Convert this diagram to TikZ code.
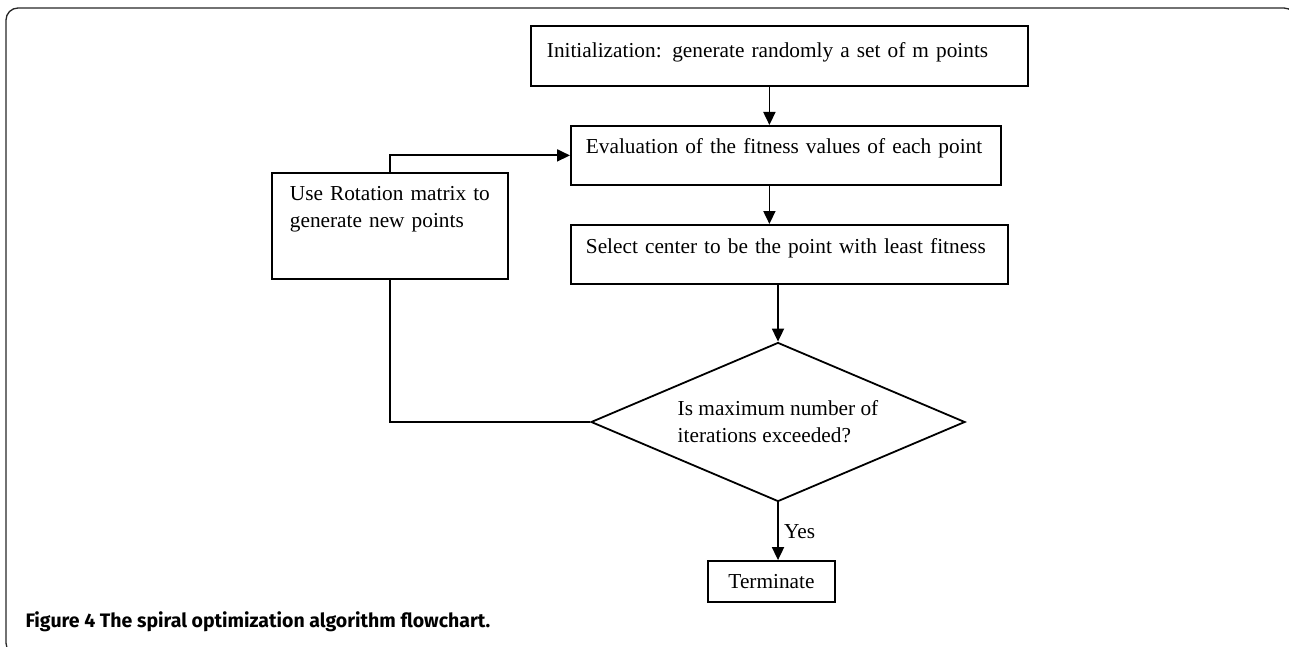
\documentclass[tikz,border=0pt]{standalone}
\usepackage{fontspec}
\setmainfont{Liberation Serif}
\newfontfamily\capfont{Fira Sans}
\usepackage{tikz}
\usetikzlibrary{arrows.meta,shapes.geometric}

\tikzset{
	stepbox/.style={draw, line width=1.8pt, anchor=north west, inner ysep=0pt, align=left},
	arr/.style={line width=1.8pt, -{Triangle[length=13pt,width=12pt]}},
	link/.style={line width=1.8pt}
}

\begin{document}
\begin{tikzpicture}[x=1pt, y=-1pt, font=\fontsize{21.3}{27}\selectfont]
		\useasboundingbox (0,0) rectangle (1289,647);
		\draw[line width=1.3pt, black!85, rounded corners=12pt] (60,655) -- (6,655) -- (6,8) -- (1296,8) -- (1296,60);

		\node[stepbox, inner xsep=16pt, text width=465pt, text height=32pt, text depth=28pt] (init) at (530,25) {Initialization: generate randomly a set of m points};
		\node[stepbox, inner xsep=15pt, text width=400pt, text height=28pt, text depth=31pt] (eval) at (570,125) {Evaluation of the fitness values of each point};
		\node[stepbox, inner xsep=15pt, text width=407pt, text height=29pt, text depth=30pt] (sel) at (570,224) {Select center to be the point with least fitness};
		\node[stepbox, inner xsep=18pt, text width=200pt, text height=28pt, text depth=78pt] (rot) at (271,172) {\mbox{Use Rotation matrix to}\\generate new points};
		\node[diamond, draw, line width=1.8pt, inner sep=0pt, aspect=2.35, minimum width=374pt, minimum height=159pt, align=left] (test) at (778,422) {Is maximum number of\\iterations exceeded?};
		\node[draw, line width=1.8pt, minimum width=127pt, minimum height=41pt, inner sep=0pt] (stop) at (771.5,581.5) {Terminate};

		\draw[arr] ([xshift=-10pt]init.south) -- ([xshift=-10pt]init.south |- eval.north);
		\draw[arr] ([xshift=-10pt]init.south |- eval.south) -- ([xshift=-10pt]init.south |- sel.north);
		\draw[arr] (sel.south -| test.north) -- (test.north);
		\draw[arr] (test.south) -- (test.south |- stop.north) node[midway, right=2pt] {Yes};
		\draw[link] (test.west) -| (rot.south);
		\draw[arr] (rot.north) |- (eval.west);

		\node[anchor=base west, font=\capfont\bfseries\fontsize{19.5}{23}\selectfont] (cap) at (22,627) {Figure 4 The spiral optimization algorithm flowchart.};
	\end{tikzpicture}
\end{document}
